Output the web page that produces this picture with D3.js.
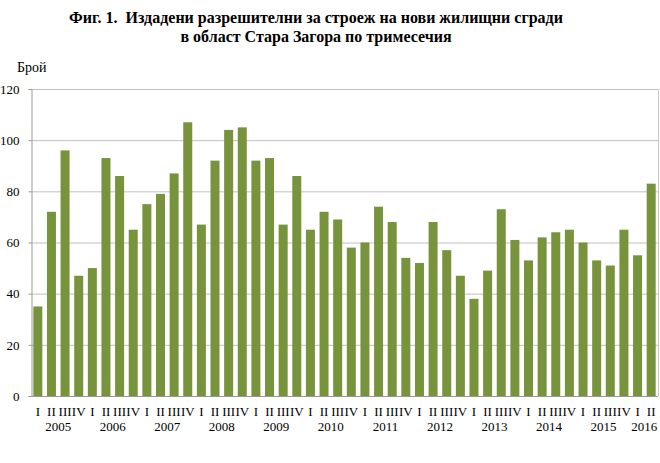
<!DOCTYPE html>
<html>
<head>
<meta charset="utf-8">
<script src="https://cdn.jsdelivr.net/npm/d3@7"></script>
<style>
  body { margin: 0; background: #fff; }
  text { font-family: "Liberation Serif", "Times New Roman", serif; fill: #000; }
</style>
</head>
<body>
<div id="chart"></div>
<script>
// data
const years = ["2005", "2006", "2007", "2008", "2009", "2010", "2011", "2012", "2013", "2014", "2015", "2016"]
const quarterNames = ["I", "II", "III", "IV"]
const permits = [
  35, 72, 96, 47,
  50, 93, 86, 65,
  75, 79, 87, 107,
  67, 92, 104, 105,
  92, 93, 67, 86,
  65, 72, 69, 58,
  60, 74, 68, 54,
  52, 68, 57, 47,
  38, 49, 73, 61,
  53, 62, 64, 65,
  60, 53, 51, 65,
  55, 83
]
const yTicks = [0, 20, 40, 60, 80, 100, 120]

// const
const width = 660
const height = 463
const margin = { top: 89, bottom: 67, left: 31, right: 2 }

const data = permits.map((v, i) => ({
  key: i,
  year: years[Math.floor(i / 4)],
  q: quarterNames[i % 4],
  value: v
}))

const svg = d3.select("#chart")
  .append("svg")
    .attr("width", width)
    .attr("height", height)

// title
const title = svg.append("g").attr("font-weight", "bold").attr("font-size", 16)
title.append("text")
  .attr("x", 316).attr("y", 23)
  .attr("text-anchor", "middle")
  .style("white-space", "pre")
  .text("Фиг. 1.  Издадени разрешителни за строеж на нови жилищни сгради")
title.append("text")
  .attr("x", 316).attr("y", 42)
  .attr("text-anchor", "middle")
  .text("в област Стара Загора по тримесечия")

svg.append("text")
  .attr("x", 17).attr("y", 72)
  .attr("font-size", 14)
  .text("Брой")

// scales
const x = d3.scaleBand()
  .domain(data.map(d => d.key))
  .range([margin.left, width - margin.right])
  .paddingInner(0.34)
  .paddingOuter(0.17)

const y = d3.scaleLinear()
  .domain([0, 120])
  .range([height - margin.bottom, margin.top])

// grid
svg.append("g")
  .selectAll("line")
  .data(yTicks.filter(t => t > 0))
  .join("line")
    .attr("x1", margin.left)
    .attr("x2", width - margin.right)
    .attr("y1", d => y(d) + 0.5)
    .attr("y2", d => y(d) + 0.5)
    .attr("stroke", "#c0c0c0")
    .attr("stroke-width", 1)

// right border of plot area
svg.append("line")
  .attr("x1", width - margin.right + 0.5).attr("x2", width - margin.right + 0.5)
  .attr("y1", y(120)).attr("y2", y(0))
  .attr("stroke", "#c8c8c8")

// bars
svg.append("g")
  .selectAll("rect")
  .data(data)
  .join("rect")
    .attr("x", d => x(d.key))
    .attr("width", x.bandwidth())
    .attr("y", d => y(d.value))
    .attr("height", d => y(0) - y(d.value))
    .attr("fill", "#77933c")

// y axis
const yAxis = d3.axisLeft(y).tickValues(yTicks).tickSize(3).tickPadding(9)
const yAxisGroup = svg.append("g")
  .attr("transform", `translate(${margin.left + 0.5},0)`)
  .call(yAxis)
yAxisGroup.select(".domain").attr("stroke", "#999")
yAxisGroup.selectAll(".tick line").attr("stroke", "#999")
yAxisGroup.selectAll(".tick text")
  .attr("font-family", "Liberation Serif, serif")
  .attr("font-size", 13)

// x axis line
svg.append("line")
  .attr("x1", margin.left).attr("x2", width - margin.right)
  .attr("y1", y(0) + 0.5).attr("y2", y(0) + 0.5)
  .attr("stroke", "#999")

// quarter labels
svg.append("g")
  .attr("font-size", 13)
  .selectAll("text")
  .data(data)
  .join("text")
    .attr("x", d => x(d.key) + x.bandwidth() / 2)
    .attr("y", 416)
    .attr("text-anchor", "middle")
    .text(d => d.q)

// year labels
const yearGroups = d3.groups(data, d => d.year)
svg.append("g")
  .attr("font-size", 13)
  .selectAll("text")
  .data(yearGroups)
  .join("text")
    .attr("x", d => {
      const first = d[1][0].key, last = d[1][d[1].length - 1].key
      return (x(first) + x(last) + x.bandwidth()) / 2
    })
    .attr("y", 431)
    .attr("text-anchor", "middle")
    .text(d => d[0])
</script>
</body>
</html>
